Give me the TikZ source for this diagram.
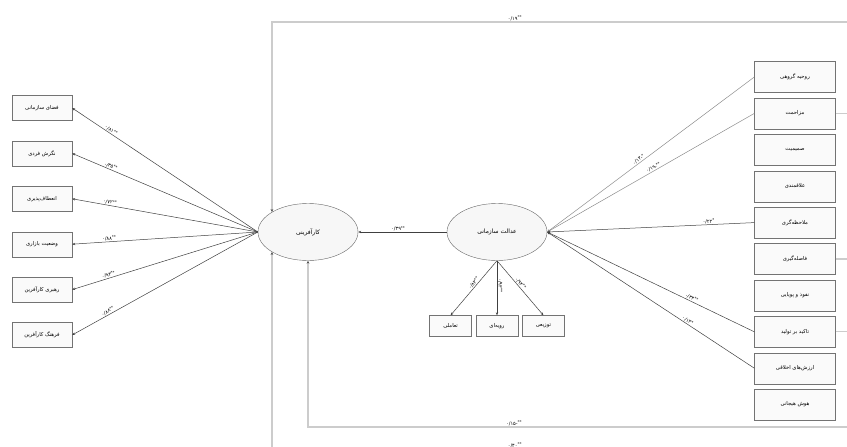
\documentclass[tikz,border=0pt]{standalone}
\usepackage{fontspec}
\newfontfamily\fa[Script=Arabic]{DejaVu Sans}
\TeXXeTstate=1
\usetikzlibrary{positioning,arrows.meta,shapes.geometric}
\newcommand{\fat}[1]{{\fa\beginR #1\endR}}
\newcommand{\cf}[2]{{\fa #1\raisebox{0.45ex}{\fontsize{4}{4}\selectfont #2}}}

\begin{document}
\begin{tikzpicture}[x=1pt,y=-1pt,
    ind/.style={rectangle, draw=black!55, fill=black!2, font=\fontsize{5.3}{6}\selectfont, inner sep=1pt},
    lat/.style={ellipse, draw=black!60, fill=black!3, minimum width=100pt, minimum height=57pt, font=\fontsize{6}{7}\selectfont},
    lnk/.style={draw=black!75, line width=0.5pt, -{Stealth[length=3pt,width=2.4pt]}},
    frm/.style={draw=black!20, line width=1.3pt},
    frmarr/.style={frm, -{Stealth[length=3pt,width=2.6pt,color=black!70]}},
    coef/.style={font=\fontsize{5}{5}\selectfont, sloped, above, inner sep=0.8pt}]
    \useasboundingbox (0,0) rectangle (847,447);

    %% latent variables
    \node[lat] (KA) at (308,232) {\fat{کارآفرینی}};
    \node[lat] (AS) at (497,232) {\fat{عدالت سازمانی}};

    %% entrepreneurship indicators
    \node[ind, minimum width=60pt, minimum height=25pt] (L1) at (42,108) {\fat{فضای سازمانی}};
    \node[ind, minimum width=60pt, minimum height=25pt, below=20pt of L1] (L2) {\fat{نگرش فردی}};
    \node[ind, minimum width=60pt, minimum height=25pt, below=20pt of L2] (L3) {\fat{انعطاف‌پذیری}};
    \node[ind, minimum width=60pt, minimum height=25pt, below=20pt of L3] (L4) {\fat{وضعیت بازاری}};
    \node[ind, minimum width=60pt, minimum height=25pt, below=20pt of L4] (L5) {\fat{رهبری کارآفرین}};
    \node[ind, minimum width=60pt, minimum height=25pt, below=20pt of L5] (L6) {\fat{فرهنگ کارآفرین}};

    \draw[lnk] (KA.west) -- node[coef, pos=0.8] {\cf{۰/۸۱}{**}} (L1.east);
    \draw[lnk] (KA.west) -- node[coef, pos=0.8] {\cf{۰/۳۵}{**}} (L2.east);
    \draw[lnk] (KA.west) -- node[coef, pos=0.8] {\cf{۰/۷۲}{**}} (L3.east);
    \draw[lnk] (KA.west) -- node[coef, pos=0.8] {\cf{۰/۸۸}{**}} (L4.east);
    \draw[lnk] (KA.west) -- node[coef, pos=0.8] {\cf{۰/۹۳}{**}} (L5.east);
    \draw[lnk] (KA.west) -- node[coef, pos=0.8] {\cf{۰/۸۸}{**}} (L6.east);

    %% justice dimensions
    \node[ind, minimum width=42pt, minimum height=21pt] (B2) at (497,326) {\fat{رویه‌ای}};
    \node[ind, minimum width=42pt, minimum height=21pt, left=4pt of B2] (B1) {\fat{تعاملی}};
    \node[ind, minimum width=42pt, minimum height=21pt, right=4pt of B2] (B3) {\fat{توزیعی}};

    \draw[lnk] (AS.south) -- node[coef, pos=0.45] {\cf{۰/۸۳}{**}} (B1.north);
    \draw[lnk] (AS.south) -- node[coef, pos=0.45] {\cf{۰/۹۳}{**}} (B2.north);
    \draw[lnk] (AS.south) -- node[coef, pos=0.45] {\cf{۰/۹۴}{**}} (B3.north);

    %% leadership style indicators
    \node[ind, minimum width=81pt, minimum height=31pt] (R1) at (795,77) {\fat{روحیه گروهی}};
    \node[ind, minimum width=81pt, minimum height=31pt, below=5pt of R1] (R2) {\fat{مزاحمت}};
    \node[ind, minimum width=81pt, minimum height=31pt, below=5pt of R2] (R3) {\fat{صمیمیت}};
    \node[ind, minimum width=81pt, minimum height=31pt, below=5pt of R3] (R4) {\fat{علاقمندی}};
    \node[ind, minimum width=81pt, minimum height=31pt, below=5pt of R4] (R5) {\fat{ملاحظه‌گری}};
    \node[ind, minimum width=81pt, minimum height=31pt, below=5pt of R5] (R6) {\fat{فاصله‌گیری}};
    \node[ind, minimum width=81pt, minimum height=31pt, below=5pt of R6] (R7) {\fat{نفوذ و پویایی}};
    \node[ind, minimum width=81pt, minimum height=31pt, below=5pt of R7] (R8) {\fat{تاکید بر تولید}};
    \node[ind, minimum width=81pt, minimum height=31pt, below=5pt of R8] (R9) {\fat{ارزش‌های اخلاقی}};
    \node[ind, minimum width=81pt, minimum height=31pt, below=5pt of R9] (R10) {\fat{هوش هیجانی}};

    \draw[lnk, draw=black!45] (R1.west) -- node[coef, pos=0.55] {\cf{-۰/۱۳}{*}} (AS.east);
    \draw[lnk, draw=black!45] (R2.west) -- node[coef, pos=0.48] {\cf{-۰/۱۹}{**}} (AS.east);
    \draw[lnk] (R5.west) -- node[coef, pos=0.22] {\cf{۰/۲۲}{*}} (AS.east);
    \draw[lnk] (R8.west) -- node[coef, pos=0.31] {\cf{۰/۳۴}{**}} (AS.east);
    \draw[lnk] (R9.west) -- node[coef, pos=0.33] {\cf{۰/۱۳}{*}} (AS.east);

    %% structural path
    \draw[lnk] (AS.west) -- node[coef, pos=0.55] {\cf{۰/۳۹}{**}} (KA.east);

    %% paths leaving the picture
    \coordinate (fr1) at (850,22);
    \coordinate (fr2) at (850,427);
    \coordinate (fr3) at (850,451);
    \draw[frmarr] (fr1) -| node[coef, pos=0.29] {\cf{۰/۱۹}{**}} (KA.151);
    \draw[frmarr] (fr2) -| node[coef, pos=0.31] {\cf{-۰/۱۵}{**}} (KA.south);
    \draw[frmarr] (fr3) -| node[coef, pos=0.29, above=2pt] {\cf{۰/۴۰}{**}} (KA.209);
    \draw[frm] (R2.east) -- (R2.east -| fr1);
    \draw[frm] (R6.east) -- (R6.east -| fr1);
    \draw[frm] (R8.east) -- (R8.east -| fr1);
\end{tikzpicture}
\end{document}
